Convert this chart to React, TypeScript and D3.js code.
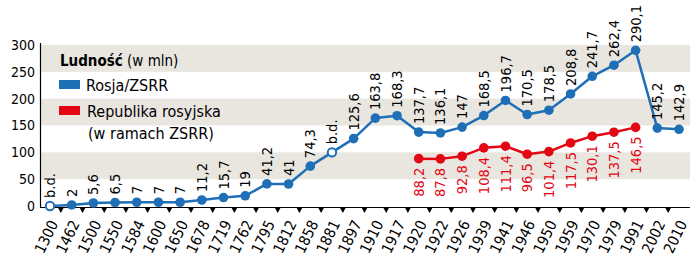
import React from 'react';
import * as d3 from 'd3';

const width = 690;
const height = 257;
const blue = '#1f6fb6';
const red = '#e30613';
const band = '#e9e6e0';
const font = "'Liberation Sans Narrow', 'DejaVu Sans Condensed', 'Roboto', sans-serif";

const years = ['1300', '1462', '1500', '1550', '1584', '1600', '1650', '1678', '1719', '1762',
  '1795', '1812', '1858', '1881', '1897', '1910', '1917', '1920', '1922', '1926',
  '1939', '1941', '1946', '1950', '1959', '1970', '1979', '1991', '2002', '2010'];

// Rosja/ZSRR; punkty "b.d." (brak danych) rysowane pustym kółkiem
const russia = [0, 2, 5.6, 6.5, 7, 7, 7, 11.2, 15.7, 19,
  41.2, 41, 74.3, 100, 125.6, 163.8, 168.3, 137.7, 136.1, 147,
  168.5, 196.7, 170.5, 178.5, 208.8, 241.7, 262.4, 290.1, 145.2, 142.9];
const russiaLabels = ['b.d.', '2', '5,6', '6,5', '7', '7', '7', '11,2', '15,7', '19',
  '41,2', '41', '74,3', 'b.d.', '125,6', '163,8', '168,3', '137,7', '136,1', '147',
  '168,5', '196,7', '170,5', '178,5', '208,8', '241,7', '262,4', '290,1', '145,2', '142,9'];

const rsfsrYears = ['1920', '1922', '1926', '1939', '1941', '1946', '1950', '1959', '1970', '1979', '1991'];
const rsfsr = [88.2, 87.8, 92.8, 108.4, 111.4, 96.5, 101.4, 117.5, 130.1, 137.5, 146.5];

const yTicks = [0, 50, 100, 150, 200, 250, 300];

const x = d3.scalePoint<string>().domain(years).range([50, 679]);
const y = d3.scaleLinear().domain([0, 300]).range([206, 45]);

const line = d3.line<[string, number]>().x(d => x(d[0])!).y(d => y(d[1]));

export default function App() {
  const blueData = years.map((yr, i) => [yr, russia[i]] as [string, number]);
  const redData = rsfsrYears.map((yr, i) => [yr, rsfsr[i]] as [string, number]);
  const step = x.step();

  return (
    <svg width={width} height={height} style={{ position: 'absolute', left: 0, top: 0 }} fontFamily={font}>
      {/* bands */}
      {[50, 150, 250].map(v => (
        <rect key={v} x={40} y={y(v + 50)} width={width - 40} height={y(v) - y(v + 50)} fill={band} />
      ))}
      {/* y axis */}
      <line x1={40.5} x2={40.5} y1={43} y2={207} stroke="#000" strokeWidth={1.2} />
      {yTicks.map(t => (
        <text key={t} x={35} y={y(t)} dy="0.35em" textAnchor="end" fontSize={14}>{t}</text>
      ))}
      {/* x axis */}
      <line x1={40} x2={width} y1={207.5} y2={207.5} stroke="#000" strokeWidth={1} />
      {years.slice(1).map(yr => {
        const cx = x(yr)! - step / 2;
        return <path key={yr} d={`M${cx - 3},207.5L${cx + 3},207.5L${cx},213Z`} fill="#000" />;
      })}
      {years.map(yr => (
        <text key={yr} transform={`translate(${x(yr)! - 1},219) rotate(-64)`} textAnchor="end"
          dy="0.7em" fontSize={15}>{yr}</text>
      ))}

      {/* legend */}
      <text x={60} y={66} fontSize={15}>
        <tspan fontWeight="bold">Ludność</tspan> (w mln)
      </text>
      <rect x={59} y={80} width={21} height={9} fill={blue} />
      <text x={86} y={91} fontSize={16}>Rosja/ZSRR</text>
      <rect x={59} y={106} width={21} height={9} fill={red} />
      <text x={87} y={117} fontSize={16}>Republika rosyjska</text>
      <text x={88} y={139} fontSize={16}>(w ramach ZSRR)</text>

      {/* Rosja/ZSRR */}
      <path d={line(blueData)!} fill="none" stroke={blue} strokeWidth={2.5} strokeLinejoin="round" />
      {blueData.map((d, i) => {
        const hollow = russiaLabels[i] === 'b.d.';
        return (
          <circle key={d[0]} cx={x(d[0])} cy={y(d[1])} r={hollow ? 4.2 : 4.8}
            fill={hollow ? '#fff' : blue} stroke={blue} strokeWidth={hollow ? 2 : 0} />
        );
      })}
      {blueData.map((d, i) => (
        <text key={d[0]} transform={`translate(${x(d[0])},${y(d[1]) - 8}) rotate(-90)`}
          dy="0.35em" fontSize={14.5}>{russiaLabels[i]}</text>
      ))}

      {/* Republika rosyjska */}
      <path d={line(redData)!} fill="none" stroke={red} strokeWidth={2.5} strokeLinejoin="round" />
      {redData.map(d => (
        <circle key={d[0]} cx={x(d[0])} cy={y(d[1])} r={4.8} fill={red} />
      ))}
      {redData.map(d => (
        <text key={d[0]} transform={`translate(${x(d[0])},${y(d[1]) + 9}) rotate(-90)`}
          dy="0.35em" textAnchor="end" fontSize={14.5} fill={red}>{String(d[1]).replace('.', ',')}</text>
      ))}
    </svg>
  );
}
